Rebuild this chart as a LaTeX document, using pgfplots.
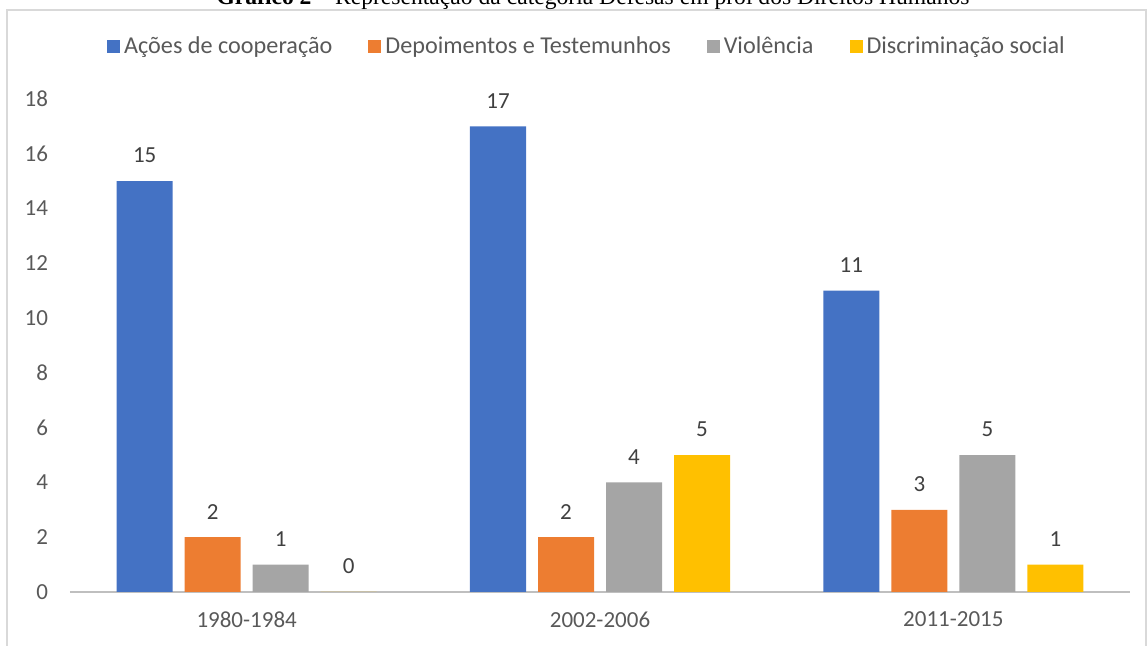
\documentclass[border=0pt]{standalone}
\usepackage{fontspec}
\setmainfont{Carlito}
\newfontfamily\timesfont{Liberation Serif}
\usepackage{pgfplots}
\pgfplotsset{compat=1.18}
\definecolor{cBlue}{HTML}{4472C4}
\definecolor{cOrange}{HTML}{ED7D31}
\definecolor{cGray}{HTML}{A5A5A5}
\definecolor{cYellow}{HTML}{FFC000}
\definecolor{txtGray}{HTML}{595959}
\definecolor{lblGray}{HTML}{404040}
\definecolor{axGray}{HTML}{BFBFBF}
\definecolor{frGray}{HTML}{D9D9D9}
\begin{document}
\fontsize{11.5}{13.8}\selectfont
\begin{tikzpicture}
\path[use as bounding box] (-35pt,-27pt) rectangle (539pt,296pt);
\draw[frGray, line width=0.8pt] (-31.5pt,-60pt) rectangle (538pt,291pt);
\node[font=\timesfont\fontsize{11.8}{14}\selectfont, anchor=base] at (261.5pt,293.5pt)
  {\textbf{Gráfico 2} – Representação da categoria Defesas em prol dos Direitos Humanos};
\begin{axis}[
  at={(0,0)}, anchor=south west,
  scale only axis, width=530pt, height=246.5pt,
  ybar=6pt, bar width=28pt,
  xmin=-0.5, xmax=2.5, ymin=0, ymax=18,
  xtick={0,1,2}, xticklabels={1980-1984,2002-2006,2011-2015},
  ytick={0,2,...,18},
  major tick length=0pt,
  axis x line*=bottom, axis y line*=left,
  x axis line style={axGray, line width=1.3pt, -},
  y axis line style={draw=none},
  clip=false,
  /pgf/number format/assume math mode=true,
  tick label style={txtGray, font=\fontsize{11.5}{13.8}\selectfont},
  xticklabel style={yshift=-6pt},
  yticklabel style={xshift=-7pt},
  ytick style={draw=none},
  xtick style={draw=none},
  nodes near coords,
  every node near coord/.append style={lblGray, font=\fontsize{11.5}{13.8}\selectfont, yshift=5pt},
  legend columns=4,
  legend style={draw=none, fill=none, at={(0.4887,1.1055)}, anchor=center,
    font=\fontsize{12.1}{14.5}\selectfont, text=txtGray,
    /tikz/every even column/.append style={column sep=16pt},
    inner sep=0pt},
  legend cell align=left,
  legend image code/.code={\fill[#1] (0pt,-3.25pt) rectangle (6.5pt,3.25pt);},
]
\addplot[fill=cBlue, draw=none] coordinates {(0,15) (1,17) (2,11)};
\addplot[fill=cOrange, draw=none] coordinates {(0,2) (1,2) (2,3)};
\addplot[fill=cGray, draw=none] coordinates {(0,1) (1,4) (2,5)};
\addplot[fill=cYellow, draw=none] coordinates {(0,0) (1,5) (2,1)};
\legend{Ações de cooperação, Depoimentos e Testemunhos, Violência, Discriminação social}
\end{axis}
\end{tikzpicture}
\end{document}
